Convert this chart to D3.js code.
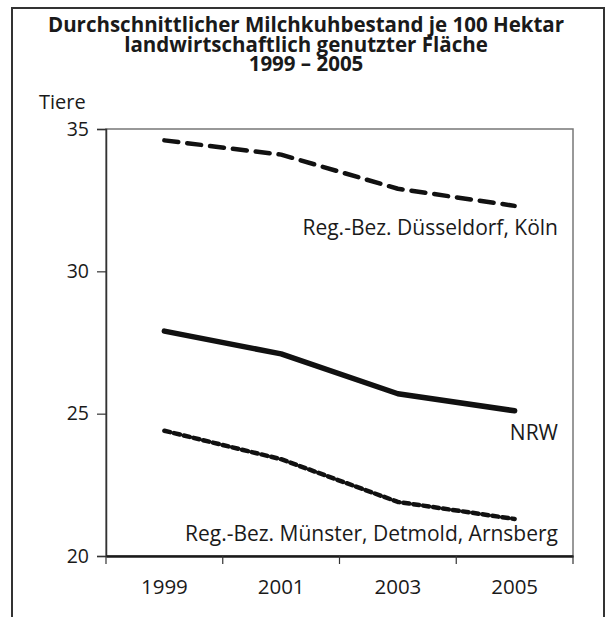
<!DOCTYPE html>
<html>
<head>
<meta charset="utf-8">
<script src="https://cdn.jsdelivr.net/npm/d3@7"></script>
<style>
  body { margin: 0; background: #fff; }
  svg text { font-family: "Open Sans", "Noto Sans", sans-serif; fill: #1a1a1a; }
</style>
</head>
<body>
<script>
const years = ['1999', '2001', '2003', '2005'];
const duesseldorf_koeln = [34.6, 34.1, 32.9, 32.3];
const nrw = [27.9, 27.1, 25.7, 25.1];
const muenster_detmold_arnsberg = [24.4, 23.4, 21.9, 21.3];
const y_ticks = [20, 25, 30, 35];
const title_lines = ['Durchschnittlicher Milchkuhbestand je 100 Hektar', 'landwirtschaftlich genutzter Fläche', '1999 – 2005'];

const w = 611, h = 617;
const marginTop = 129, marginBottom = 61, marginLeft = 106, marginRight = 38;

const svg = d3.select('body').append('svg').attr('width', w).attr('height', h);

// outer frame (open at the bottom)
svg.append('path')
    .attr('d', `M12,${h + 5} V8 H604 V${h + 5}`)
    .attr('fill', 'none')
    .attr('stroke', '#333')
    .attr('stroke-width', 2);

svg.append('g')
    .selectAll('text')
    .data(title_lines)
    .join('text')
    .attr('x', 306)
    .attr('y', (d, i) => 32 + i * 19.5)
    .attr('text-anchor', 'middle')
    .attr('font-weight', 'bold')
    .attr('font-size', 20.5)
    .text(d => d);

svg.append('text')
    .attr('x', 39)
    .attr('y', 109)
    .attr('font-size', 20)
    .text('Tiere');

const x = d3.scaleBand().domain(years).range([marginLeft, w - marginRight]);
const y = d3.scaleLinear().domain([20, 35]).range([h - marginBottom, marginTop]);

// plot frame
svg.append('rect')
    .attr('x', marginLeft)
    .attr('y', marginTop)
    .attr('width', w - marginRight - marginLeft)
    .attr('height', h - marginBottom - marginTop)
    .attr('fill', 'none')
    .attr('stroke', '#777')
    .attr('stroke-width', 1.5);

const yAxis = svg.append('g')
    .attr('transform', `translate(${marginLeft}, 0)`)
    .call(d3.axisLeft(y).tickValues(y_ticks).tickSize(9).tickPadding(8));
yAxis.select('.domain').attr('stroke', '#333').attr('stroke-width', 1.5);
yAxis.selectAll('.tick line').attr('stroke', '#333').attr('stroke-width', 1.2);
yAxis.selectAll('.tick text').attr('font-size', 19.5).attr('font-family', '"Open Sans", sans-serif').attr('fill', '#1a1a1a');

const xAxis = svg.append('g')
    .attr('transform', `translate(0, ${h - marginBottom})`)
    .call(d3.axisBottom(x).tickSize(0).tickPadding(23));
xAxis.select('.domain').attr('stroke', '#1a1a1a').attr('stroke-width', 2.5);
xAxis.selectAll('.tick text').attr('font-size', 20.5).attr('font-family', '"Open Sans", sans-serif').attr('fill', '#1a1a1a');

// boundary ticks between the year bands
const bounds = years.map(d => x(d)).concat([x(years.at(-1)) + x.bandwidth()]);
svg.append('g')
    .selectAll('line')
    .data(bounds)
    .join('line')
    .attr('x1', d => d)
    .attr('x2', d => d)
    .attr('y1', h - marginBottom)
    .attr('y2', h - marginBottom + 8)
    .attr('stroke', '#333')
    .attr('stroke-width', 1.2);

const line = d3.line()
    .x((d, i) => x(years[i]) + x.bandwidth() / 2)
    .y(d => y(d));

const series = [
    { values: duesseldorf_koeln, dash: '14,9', width: 4.5, label: 'Reg.-Bez. Düsseldorf, Köln', labelY: 235 },
    { values: nrw, dash: null, width: 5.5, label: 'NRW', labelY: 440 },
    { values: muenster_detmold_arnsberg, dash: '6,4', width: 4.5, label: 'Reg.-Bez. Münster, Detmold, Arnsberg', labelY: 541 }
];

series.forEach(s => {
    svg.append('path')
        .datum(s.values)
        .attr('fill', 'none')
        .attr('stroke', '#111')
        .attr('stroke-width', s.width)
        .attr('stroke-dasharray', s.dash)
        .attr('stroke-linecap', 'round')
        .attr('stroke-linejoin', 'round')
        .attr('d', line);

    svg.append('text')
        .attr('x', 558)
        .attr('y', s.labelY)
        .attr('text-anchor', 'end')
        .attr('font-size', 21)
        .text(s.label);
});
</script>
</body>
</html>
